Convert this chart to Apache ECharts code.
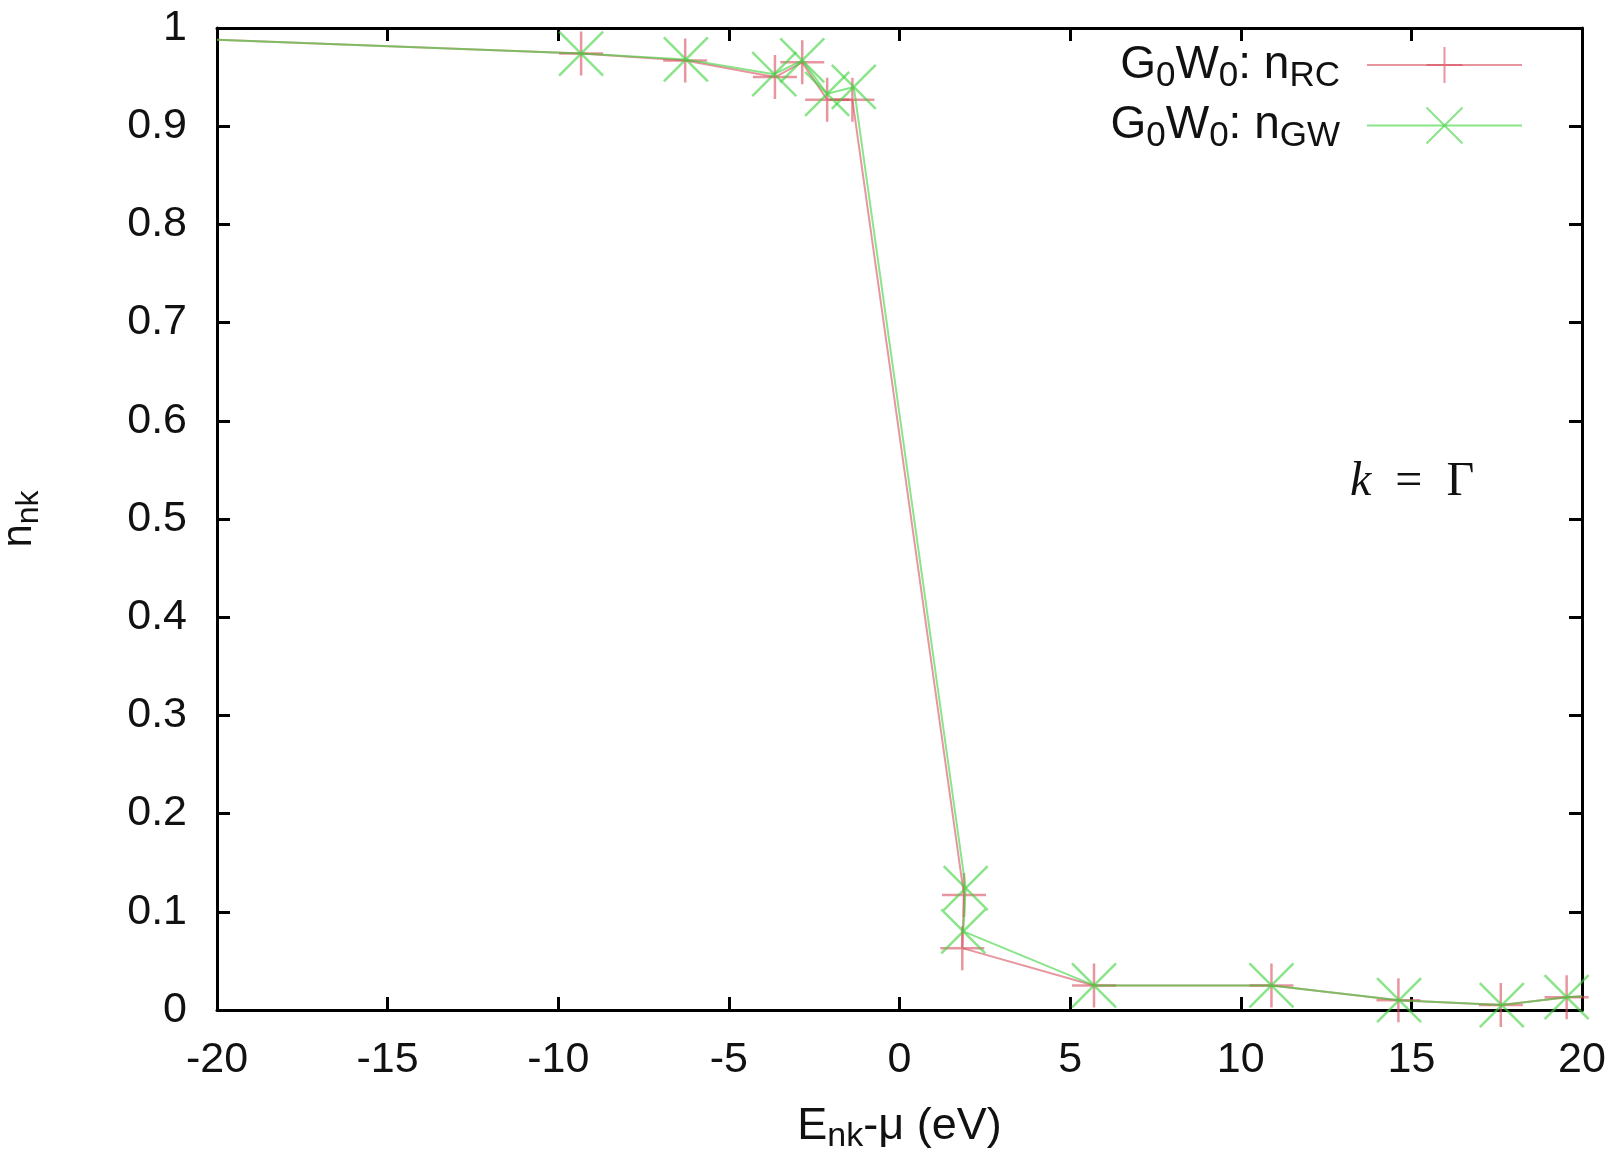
<!DOCTYPE html>
<html>
<head>
<meta charset="utf-8">
<script src="https://cdn.jsdelivr.net/npm/echarts@6/dist/echarts.min.js"></script>
<style>
html,body{margin:0;padding:0;background:#fff;}
#chart{width:1618px;height:1152px;}
</style>
</head>
<body>
<div id="chart"></div>
<script>
// Data
const xRC = [-20, -9.33, -6.28, -3.65, -2.85, -2.12, -1.38, 1.89, 1.84, 5.7, 10.9, 14.62, 17.62, 19.55, 20];
const yRC = [0.988, 0.974, 0.967, 0.950, 0.965, 0.927, 0.927, 0.117, 0.063, 0.025, 0.025, 0.010, 0.005, 0.013, 0.014];
const xGW = [-20, -9.33, -6.26, -3.67, -2.85, -2.12, -1.34, 1.94, 1.87, 5.7, 10.9, 14.64, 17.65, 19.55, 20];
const yGW = [0.988, 0.974, 0.968, 0.953, 0.967, 0.933, 0.940, 0.124, 0.080, 0.025, 0.025, 0.010, 0.005, 0.013, 0.014];
const xTicks = [-20, -15, -10, -5, 0, 5, 10, 15, 20];
const yTicks = [0, 0.1, 0.2, 0.3, 0.4, 0.5, 0.6, 0.7, 0.8, 0.9, 1];
const seriesNames = ['G0W0: nRC', 'G0W0: nGW'];

const X_MIN = xTicks[0], X_MAX = xTicks[xTicks.length - 1];
const RED = 'rgba(215,80,95,0.6)';
const GREEN = 'rgba(60,210,60,0.6)';
const PLUS = 'path://M5 0L5 10M0 5L10 5';
const CROSS = 'path://M0 0L10 10M10 0L0 10';

function build(xs, ys) {
  return xs.map((x, i) => {
    const item = { value: [x, ys[i]] };
    if (x <= X_MIN || x >= X_MAX) item.symbol = 'none';
    return item;
  });
}

const FONT = '"Liberation Sans", Arial, Helvetica, sans-serif';
const SERIF = '"Liberation Serif", "DejaVu Serif", serif';
const lineCommon = { show: true, onZero: false, lineStyle: { color: '#000', width: 3 } };
const tickCommon = { show: true, inside: true, length: 13, lineStyle: { color: '#000', width: 3 } };

const chart = echarts.init(document.getElementById('chart'), null, { renderer: 'canvas' });
chart.setOption({
  animation: false,
  backgroundColor: '#fff',
  grid: { left: 217, right: 36, top: 28, bottom: 142, containLabel: false, outerBoundsMode: 'none' },
  legend: {
    orient: 'vertical',
    right: 90,
    top: 37,
    align: 'right',
    itemWidth: 155,
    itemHeight: 45,
    itemGap: 9,
    selectedMode: false,
    data: seriesNames,
    formatter: function (name) {
      if (name === seriesNames[0]) return 'G{sub|0}W{sub|0}: n{sub|RC}{sp|}';
      return 'G{sub|0}W{sub|0}: n{sub|GW}{sp|}';
    },
    textStyle: {
      fontFamily: FONT, fontSize: 46, color: '#111',
      rich: {
        sub: { fontFamily: FONT, fontSize: 35, verticalAlign: 'bottom', padding: [22, 0, 0, 0], color: '#111' },
        sp: { width: 22 }
      }
    }
  },
  xAxis: [{
    type: 'value', min: X_MIN, max: X_MAX, interval: 5, position: 'bottom',
    name: 'E{sub|nk}-μ (eV)',
    nameLocation: 'middle', nameGap: 90,
    nameTextStyle: {
      fontFamily: FONT, fontSize: 45, color: '#111',
      rich: { sub: { fontFamily: FONT, fontSize: 34, verticalAlign: 'bottom', padding: [20, 0, 0, 0], color: '#111' } }
    },
    axisLine: lineCommon,
    axisTick: tickCommon,
    axisLabel: { fontFamily: FONT, fontSize: 43, color: '#111', margin: 29 },
    splitLine: { show: false }
  }, {
    type: 'value', min: X_MIN, max: X_MAX, interval: 5, position: 'top',
    axisLine: lineCommon,
    axisTick: tickCommon,
    axisLabel: { show: false },
    splitLine: { show: false }
  }],
  yAxis: [{
    type: 'value', min: yTicks[0], max: yTicks[yTicks.length - 1], interval: 0.1,
    position: 'left',
    name: 'n{sub|nk}',
    nameLocation: 'middle', nameGap: 172, nameRotate: 90,
    nameTextStyle: {
      fontFamily: FONT, fontSize: 42, color: '#111',
      rich: { sub: { fontFamily: FONT, fontSize: 32, verticalAlign: 'bottom', padding: [20, 0, 0, 0], color: '#111' } }
    },
    axisLine: lineCommon,
    axisTick: tickCommon,
    axisLabel: {
      fontFamily: FONT, fontSize: 43, color: '#111', margin: 30,
      formatter: v => String(Math.round(v * 10) / 10)
    },
    splitLine: { show: false }
  }, {
    type: 'value', min: yTicks[0], max: yTicks[yTicks.length - 1], interval: 0.1,
    position: 'right',
    axisLine: lineCommon,
    axisTick: tickCommon,
    axisLabel: { show: false },
    splitLine: { show: false }
  }],
  graphic: [{
    type: 'text',
    left: 1350, top: 458,
    style: {
      text: '{k|k}{eq|  =  }{g|Γ}',
      rich: {
        k: { fontFamily: SERIF, fontStyle: 'italic', fontSize: 48, fill: '#111' },
        eq: { fontFamily: SERIF, fontSize: 48, fill: '#111' },
        g: { fontFamily: SERIF, fontSize: 48, fill: '#111' }
      }
    }
  }],
  series: [{
    name: seriesNames[0],
    type: 'line',
    xAxisIndex: 0, yAxisIndex: 0,
    data: build(xRC, yRC),
    symbol: PLUS,
    symbolSize: 44,
    showAllSymbol: true,
    clip: true,
    lineStyle: { color: RED, width: 2 },
    itemStyle: { color: 'rgba(0,0,0,0)', borderColor: RED, borderWidth: 2.5 },
    emphasis: { disabled: true },
    z: 3
  }, {
    name: seriesNames[1],
    type: 'line',
    xAxisIndex: 0, yAxisIndex: 0,
    data: build(xGW, yGW),
    symbol: CROSS,
    symbolSize: 44,
    showAllSymbol: true,
    clip: true,
    lineStyle: { color: GREEN, width: 2 },
    itemStyle: { color: 'rgba(0,0,0,0)', borderColor: GREEN, borderWidth: 2.5 },
    emphasis: { disabled: true },
    z: 4
  }]
});
</script>
</body>
</html>
